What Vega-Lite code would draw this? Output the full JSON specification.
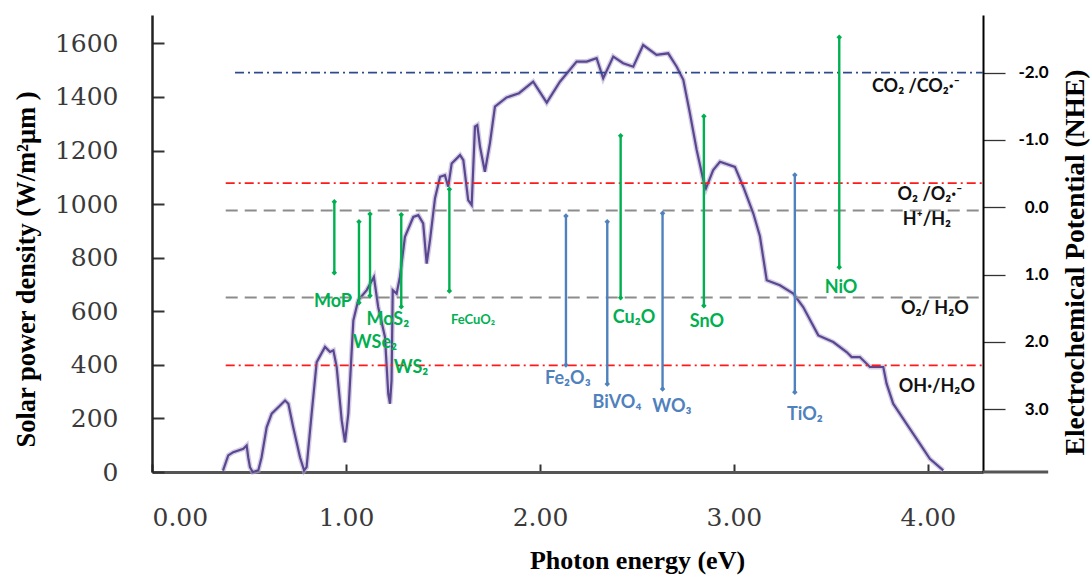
{
  "$schema": "https://vega.github.io/schema/vega-lite/v6.json",
  "width": 831,
  "height": 457,
  "autosize": {"type": "none"},
  "padding": {"left": 152, "top": 15, "right": 107, "bottom": 104},
  "background": "white",
  "config": {"view": {"stroke": null}, "axis": {"grid": false}},
  "datasets": {
    "spectrum": [
      {"e":0.366,"w":5},{"e":0.393,"w":62},{"e":0.419,"w":74},{"e":0.471,"w":87},{"e":0.488,"w":99},{"e":0.496,"w":55},{"e":0.505,"w":18},{"e":0.519,"w":0},{"e":0.548,"w":6},{"e":0.565,"w":55},{"e":0.591,"w":167},{"e":0.617,"w":218},{"e":0.651,"w":242},{"e":0.686,"w":267},{"e":0.703,"w":255},{"e":0.728,"w":167},{"e":0.763,"w":55},{"e":0.784,"w":6},{"e":0.797,"w":18},{"e":0.823,"w":218},{"e":0.849,"w":410},{"e":0.892,"w":467},{"e":0.918,"w":448},{"e":0.935,"w":454},{"e":0.952,"w":392},{"e":0.978,"w":193},{"e":0.995,"w":111},{"e":1.012,"w":218},{"e":1.038,"w":566},{"e":1.063,"w":641},{"e":1.107,"w":679},{"e":1.144,"w":728},{"e":1.166,"w":616},{"e":1.201,"w":504},{"e":1.218,"w":292},{"e":1.227,"w":255},{"e":1.235,"w":342},{"e":1.241,"w":679},{"e":1.261,"w":666},{"e":1.278,"w":728},{"e":1.304,"w":878},{"e":1.347,"w":952},{"e":1.373,"w":959},{"e":1.398,"w":928},{"e":1.416,"w":778},{"e":1.433,"w":865},{"e":1.459,"w":1022},{"e":1.485,"w":1102},{"e":1.510,"w":1108},{"e":1.527,"w":1065},{"e":1.545,"w":1152},{"e":1.588,"w":1183},{"e":1.605,"w":1164},{"e":1.630,"w":1015},{"e":1.648,"w":997},{"e":1.665,"w":1289},{"e":1.677,"w":1295},{"e":1.691,"w":1214},{"e":1.716,"w":1121},{"e":1.742,"w":1227},{"e":1.768,"w":1364},{"e":1.828,"w":1398},{"e":1.892,"w":1414},{"e":1.965,"w":1457},{"e":2.035,"w":1379},{"e":2.103,"w":1457},{"e":2.189,"w":1532},{"e":2.241,"w":1532},{"e":2.292,"w":1545},{"e":2.326,"w":1470},{"e":2.378,"w":1551},{"e":2.429,"w":1526},{"e":2.481,"w":1513},{"e":2.532,"w":1594},{"e":2.601,"w":1557},{"e":2.661,"w":1563},{"e":2.705,"w":1513},{"e":2.739,"w":1464},{"e":2.773,"w":1339},{"e":2.808,"w":1202},{"e":2.842,"w":1090},{"e":2.856,"w":1059},{"e":2.893,"w":1127},{"e":2.928,"w":1158},{"e":3.005,"w":1139},{"e":3.048,"w":1065},{"e":3.100,"w":965},{"e":3.134,"w":880},{"e":3.169,"w":716},{"e":3.237,"w":697},{"e":3.306,"w":666},{"e":3.357,"w":616},{"e":3.435,"w":510},{"e":3.512,"w":485},{"e":3.581,"w":448},{"e":3.607,"w":429},{"e":3.649,"w":429},{"e":3.701,"w":392},{"e":3.770,"w":392},{"e":3.787,"w":330},{"e":3.821,"w":255},{"e":3.890,"w":180},{"e":3.959,"w":105},{"e":4.010,"w":49},{"e":4.079,"w":6}
    ],
    "ext": [{"e": 4.284, "e2": 4.62, "w": 0}],
    "levels": [
      {"e": 0.428, "e2": 4.284, "p": -2.0, "kind": "CO2 line"},
      {"e": 0.38, "e2": 4.284, "p": -0.36, "kind": "radical line"},
      {"e": 0.38, "e2": 4.284, "p": 0.05, "kind": "water line"},
      {"e": 0.38, "e2": 4.284, "p": 1.34, "kind": "water line"},
      {"e": 0.38, "e2": 4.284, "p": 2.35, "kind": "radical line"}
    ],
    "bars": [
      {"name": "MoP", "e": 0.94, "p": -0.083, "p2": 0.973, "group": "A"},
      {"name": "WSe2", "e": 1.067, "p": 0.215, "p2": 1.419, "group": "A"},
      {"name": "MoS2", "e": 1.124, "p": 0.10, "p2": 1.315, "group": "A"},
      {"name": "WS2", "e": 1.285, "p": 0.111, "p2": 1.479, "group": "A"},
      {"name": "FeCuO2", "e": 1.533, "p": -0.267, "p2": 1.245, "group": "A"},
      {"name": "Cu2O", "e": 2.416, "p": -1.064, "p2": 1.345, "group": "A"},
      {"name": "SnO", "e": 2.845, "p": -1.352, "p2": 1.464, "group": "A"},
      {"name": "NiO", "e": 3.543, "p": -2.527, "p2": 0.893, "group": "A"},
      {"name": "Fe2O3", "e": 2.134, "p": 0.13, "p2": 2.345, "group": "B"},
      {"name": "BiVO4", "e": 2.347, "p": 0.215, "p2": 2.628, "group": "B"},
      {"name": "WO3", "e": 2.632, "p": 0.09, "p2": 2.702, "group": "B"},
      {"name": "TiO2", "e": 3.314, "p": -0.479, "p2": 2.751, "group": "B"}
    ],
    "labels": [
      {"label": "MoP", "e": 0.933, "p": 1.41, "group": "A"},
      {"label": "MoS₂", "e": 1.216, "p": 1.676, "group": "A"},
      {"label": "WSe₂", "e": 1.149, "p": 2.02, "group": "A"},
      {"label": "WS₂", "e": 1.335, "p": 2.39, "group": "A"},
      {"label": "FeCuO₂", "e": 1.655, "p": 1.676, "group": "A"},
      {"label": "Cu₂O", "e": 2.485, "p": 1.647, "group": "A"},
      {"label": "SnO", "e": 2.861, "p": 1.706, "group": "A"},
      {"label": "NiO", "e": 3.552, "p": 1.20, "group": "A"},
      {"label": "Fe₂O₃", "e": 2.144, "p": 2.554, "group": "B"},
      {"label": "BiVO₄", "e": 2.397, "p": 2.91, "group": "B"},
      {"label": "WO₃", "e": 2.68, "p": 2.97, "group": "B"},
      {"label": "TiO₂", "e": 3.366, "p": 3.09, "group": "B"},
      {"label": "CO₂ /CO₂·⁻", "e": 3.938, "p": -1.788, "group": "ref"},
      {"label": "O₂ /O₂·⁻", "e": 4.01, "p": -0.18, "group": "ref"},
      {"label": "H⁺/H₂", "e": 3.995, "p": 0.19, "group": "ref"},
      {"label": "O₂/ H₂O", "e": 4.036, "p": 1.51, "group": "ref"},
      {"label": "OH·/H₂O", "e": 4.046, "p": 2.677, "group": "ref"}
    ]
  },
  "encoding": {
    "x": {"field": "e", "type": "quantitative", "scale": {"domain": [0, 4.284], "nice": false, "zero": false},
      "axis": {"values": [0, 1, 2, 3, 4], "format": ".2f", "labelFont": "DejaVu Serif", "labelFontSize": 25, "labelColor": "#3a3a3a",
        "tickSize": -8, "tickWidth": 2, "tickColor": "#333", "labelPadding": 41, "domainColor": "#555", "domainWidth": 3,
        "title": "Photon energy (eV)", "titleFont": "Liberation Serif", "titleFontSize": 26, "titleFontWeight": "bold", "titleColor": "black",
        "titleX": 485, "titleY": 88, "titleAlign": "center", "titleBaseline": "middle"}}
  },
  "layer": [
    {
      "encoding": {
        "y": {"field": "w", "type": "quantitative", "scale": {"domain": [0, 1706], "nice": false},
          "axis": {"values": [0, 200, 400, 600, 800, 1000, 1200, 1400, 1600], "format": "d", "labelFont": "DejaVu Serif", "labelFontSize": 25, "labelColor": "#3a3a3a",
            "tickSize": -12, "tickWidth": 2, "tickColor": "#333", "labelPadding": 46, "domainColor": "#222", "domainWidth": 2.5,
            "title": "Solar power density (W/m²μm )", "titleFont": "Liberation Serif", "titleFontSize": 26.5, "titleFontWeight": "bold", "titleColor": "black",
            "titleX": -126, "titleY": 254, "titleAngle": -90, "titleAlign": "center", "titleBaseline": "middle"}}
      },
      "layer": [
        {
          "data": {"name": "spectrum"},
          "mark": {"type": "line", "color": "#b7aed4", "strokeWidth": 5, "opacity": 0.6}
        },
        {
          "data": {"name": "spectrum"},
          "mark": {"type": "line", "color": "#5b4790", "strokeWidth": 2.2}
        },
        {
          "data": {"name": "ext"},
          "mark": {"type": "rule", "color": "#555", "strokeWidth": 3},
          "encoding": {"x2": {"field": "e2"}}
        }
      ]
    },
    {
      "encoding": {
        "y": {"field": "p", "type": "quantitative", "scale": {"domain": [-2.858, 3.936], "reverse": true, "nice": false, "zero": false},
          "axis": {"orient": "right", "values": [-2, -1, 0, 1, 2, 3], "labelExpr": "replace(format(datum.value, '.1f'), '−', '-')",
            "labelFont": "Lato", "labelFontWeight": "bold", "labelFontSize": 17, "labelColor": "black", "labelAlign": "right", "labelPadding": 43,
            "tickSize": 22, "tickColor": "#333", "tickWidth": 1.3, "domainColor": "black", "domainWidth": 2,
            "title": "Electrochemical Potential  (NHE)", "titleFont": "Liberation Serif", "titleFontSize": 27.5, "titleFontWeight": "bold", "titleColor": "black",
            "titleX": 92, "titleY": 247, "titleAngle": -90, "titleAlign": "center", "titleBaseline": "middle"}}
      },
      "layer": [
        {
          "data": {"name": "levels"},
          "transform": [{"filter": "datum.kind === 'water line'"}],
          "mark": {"type": "rule", "color": "#8c8c8c", "strokeWidth": 2, "strokeDash": [12, 7]},
          "encoding": {"x2": {"field": "e2"}}
        },
        {
          "data": {"name": "levels"},
          "transform": [{"filter": "datum.kind !== 'water line'"}],
          "mark": {"type": "rule", "strokeWidth": 1.8, "strokeDash": [9, 4, 2, 4]},
          "encoding": {
            "x2": {"field": "e2"},
            "color": {"field": "kind", "type": "nominal", "legend": null,
              "scale": {"domain": ["CO2 line", "radical line", "A", "B", "ref"], "range": ["#2e4a8c", "#ff1a1a", "#00b050", "#4f81bd", "#111111"]}}
          }
        },
        {
          "data": {"name": "bars"},
          "mark": {"type": "rule", "strokeWidth": 2.4},
          "encoding": {
            "y2": {"field": "p2"},
            "color": {"field": "group", "type": "nominal", "legend": null}
          }
        },
        {
          "data": {"name": "bars"},
          "transform": [{"fold": ["p", "p2"], "as": ["end", "p"]}],
          "mark": {"type": "point", "shape": "diamond", "filled": true, "opacity": 1, "size": 30},
          "encoding": {
            "color": {"field": "group", "type": "nominal", "legend": null}
          }
        },
        {
          "data": {"name": "labels"},
          "mark": {"type": "text", "font": "Lato", "fontWeight": "bold", "align": "center", "baseline": "middle"},
          "encoding": {
            "text": {"field": "label"},
            "color": {"field": "group", "type": "nominal", "legend": null},
            "size": {"condition": {"test": "datum.label === 'FeCuO₂'", "value": 13}, "value": 18}
          }
        }
      ]
    }
  ],
  "resolve": {"scale": {"y": "independent"}}
}
